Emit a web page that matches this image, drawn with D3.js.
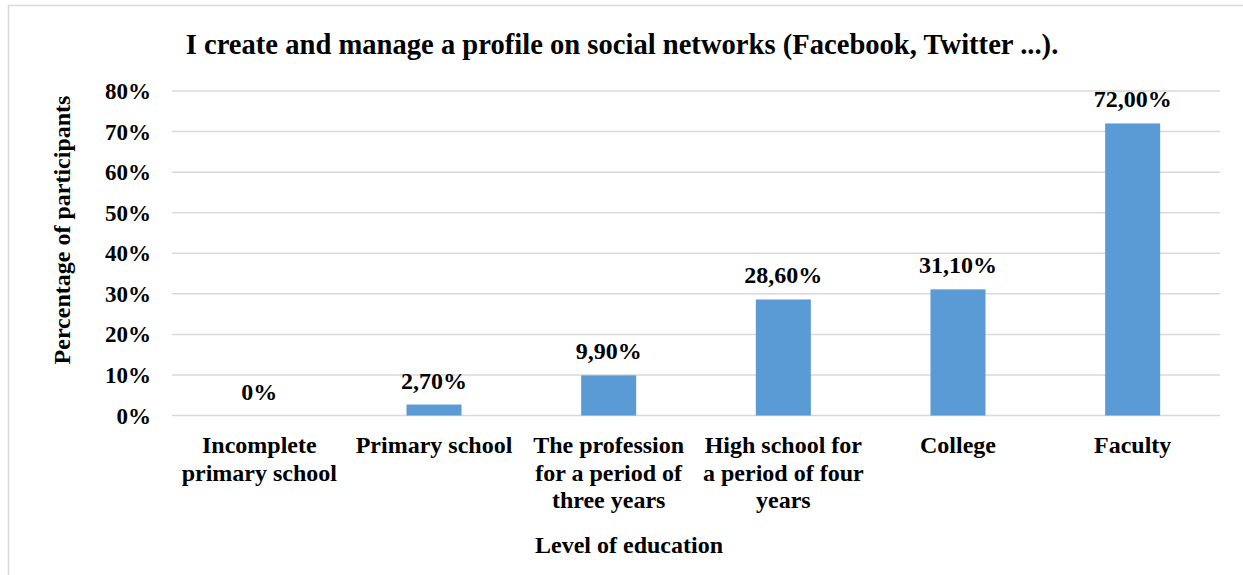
<!DOCTYPE html>
<html>
<head>
<meta charset="utf-8">
<script src="https://cdn.jsdelivr.net/npm/d3@7"></script>
<style>
  body { margin: 0; background: #fff; }
  svg { display: block; }
  text { font-family: "Liberation Serif", "Times New Roman", serif; font-weight: bold; fill: #000; }
</style>
</head>
<body>
<div id="chart"></div>
<script>
const categories = [
    "Incomplete\nprimary school",
    "Primary school",
    "The profession\nfor a period of\nthree years",
    "High school for\na period of four\nyears",
    "College",
    "Faculty"
];
const values = [0, 2.7, 9.9, 28.6, 31.1, 72.0];
const valueLabels = ["0%", "2,70%", "9,90%", "28,60%", "31,10%", "72,00%"];
const yTicks = [0, 10, 20, 30, 40, 50, 60, 70, 80];

const width = 1243, height = 575;
const margin = { left: 172, right: 23, top: 91, bottom: 160 };

const svg = d3.select("#chart").append("svg")
    .attr("width", width)
    .attr("height", height);

// chart frame
svg.append("rect")
    .attr("x", 8.5).attr("y", 5.5)
    .attr("width", width + 10).attr("height", height + 10)
    .attr("fill", "none")
    .attr("stroke", "#d9d9d9")
    .attr("stroke-width", 1.5);

const x = d3.scaleBand()
    .domain(categories)
    .range([margin.left, width - margin.right])
    .padding(0);

const y = d3.scaleLinear()
    .domain([0, 80])
    .range([height - margin.bottom + 0.5, margin.top]);

// gridlines
svg.append("g")
    .selectAll("line")
    .data(yTicks)
    .enter().append("line")
    .attr("x1", margin.left)
    .attr("x2", width - margin.right)
    .attr("y1", d => y(d))
    .attr("y2", d => y(d))
    .attr("stroke", "#d9d9d9")
    .attr("stroke-width", 1.5);

// y tick labels
svg.append("g")
    .selectAll("text")
    .data(yTicks)
    .enter().append("text")
    .attr("x", 151)
    .attr("y", d => y(d) + 8)
    .attr("text-anchor", "end")
    .attr("font-size", 23)
    .text(d => d + "%");

// bars
const barW = x.bandwidth() * 0.315;
svg.append("g")
    .selectAll("rect")
    .data(values)
    .enter().append("rect")
    .attr("x", (d, i) => x(categories[i]) + (x.bandwidth() - barW) / 2)
    .attr("y", d => y(d))
    .attr("width", barW)
    .attr("height", d => y(0) - y(d))
    .attr("fill", "#5b9bd5");

// value labels
svg.append("g")
    .selectAll("text")
    .data(values)
    .enter().append("text")
    .attr("x", (d, i) => x(categories[i]) + x.bandwidth() / 2)
    .attr("y", d => y(d) - 16)
    .attr("text-anchor", "middle")
    .attr("font-size", 24)
    .text((d, i) => valueLabels[i]);

// category labels
const catG = svg.append("g")
    .selectAll("text")
    .data(categories)
    .enter().append("text")
    .attr("x", d => x(d) + x.bandwidth() / 2)
    .attr("y", 453)
    .attr("text-anchor", "middle")
    .attr("font-size", 24);

catG.selectAll("tspan")
    .data(d => d.split("\n"))
    .enter().append("tspan")
    .attr("x", function() { return d3.select(this.parentNode).attr("x"); })
    .attr("dy", (d, i) => i === 0 ? 0 : 27.5)
    .text(d => d);

// title
svg.append("text")
    .attr("x", 622)
    .attr("y", 54)
    .attr("text-anchor", "middle")
    .attr("font-size", 28.6)
    .text("I create and manage a profile on social networks (Facebook, Twitter ...).");

// axis titles
svg.append("text")
    .attr("x", 629)
    .attr("y", 553)
    .attr("text-anchor", "middle")
    .attr("font-size", 24)
    .text("Level of education");

svg.append("text")
    .attr("transform", "translate(70," + 230 + ") rotate(-90)")
    .attr("text-anchor", "middle")
    .attr("font-size", 24)
    .text("Percentage of participants");
</script>
</body>
</html>
